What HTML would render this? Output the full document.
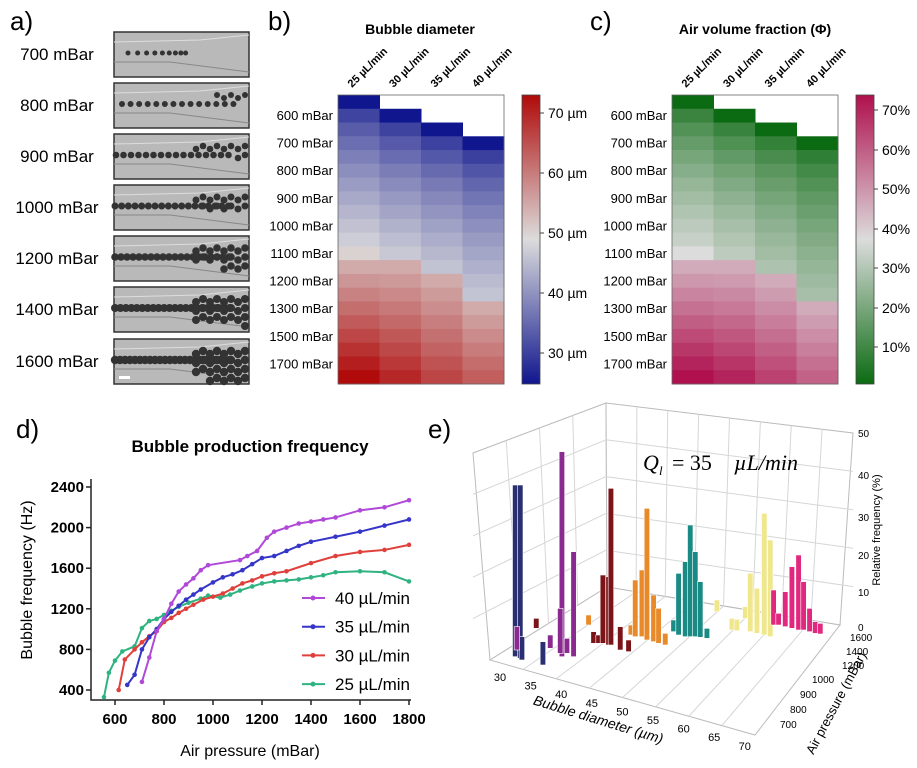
<!DOCTYPE html>
<html><head><meta charset="utf-8"><style>
html,body{margin:0;padding:0;background:#fff}
svg{display:block;font-family:"Liberation Sans",sans-serif}
</style></head><body>
<svg id="s" width="917" height="768" viewBox="0 0 917 768" xmlns="http://www.w3.org/2000/svg">
<defs>
<linearGradient id="gb" x1="0" y1="1" x2="0" y2="0"><stop offset="0" stop-color="#10168e"/><stop offset="0.5" stop-color="#dcdcdc"/><stop offset="1" stop-color="#b00a0a"/></linearGradient>
<linearGradient id="gc" x1="0" y1="1" x2="0" y2="0"><stop offset="0" stop-color="#0b6b12"/><stop offset="0.5" stop-color="#dcdcdc"/><stop offset="1" stop-color="#b0104e"/></linearGradient>
</defs>
<g font-size="26"><text x="10" y="30">a)</text><text x="268" y="30">b)</text><text x="590" y="30">c)</text><text x="16" y="438">d)</text><text x="428" y="438">e)</text></g>
<text x="420" y="34" font-size="14" font-weight="bold" text-anchor="middle">Bubble diameter</text>
<text x="755" y="34" font-size="14" font-weight="bold" text-anchor="middle">Air volume fraction (Φ)</text>
<g id="a"></g><g id="b"></g><g id="c"></g><g id="d"></g><g id="e"></g>
<text x="250" y="452" font-size="17" font-weight="bold" text-anchor="middle">Bubble production frequency</text>
<text x="250" y="756" font-size="16" text-anchor="middle">Air pressure (mBar)</text>
<text transform="translate(32,580) rotate(-90)" font-size="16" text-anchor="middle">Bubble frequency (Hz)</text>
</svg>
<script>
const NS="http://www.w3.org/2000/svg";
function el(p,t,a,txt){const e=document.createElementNS(NS,t);for(const k in a)e.setAttribute(k,a[k]);if(txt!==undefined)e.textContent=txt;document.getElementById(p).appendChild(e);return e;}
const ay=[32,83,134,185,236,287,339],al=["700 mBar","800 mBar","900 mBar","1000 mBar","1200 mBar","1400 mBar","1600 mBar"];
ay.forEach((y,i)=>{el('a','text',{x:57,y:y+28,'font-size':17,'text-anchor':'middle'},al[i]);
el('a','rect',{x:114,y:y,width:135,height:45,fill:'#b9b9b9',stroke:'#333','stroke-width':1.5});
el('a','path',{d:`M114 ${y+30} L170 ${y+30} L249 ${y+40}`,stroke:'#888',fill:'none'});
el('a','path',{d:`M114 ${y+10} L200 ${y+8} L249 ${y+3}`,stroke:'#ddd',fill:'none'});
let start=[128,122,116,115,115,115,115][i],n=[9,14,16,18,20,22,24][i],r=[2.5,3,3.3,3.5,3.8,4,4.2][i];
for(let k=0;k<n;k++){let x=start+k*(i==0?10-k*0.35:(120/n)+0);if(x>246)break;el('a','circle',{cx:x,cy:y+21,r:r,fill:'#333'});}
for(let k=0;k<i*5;k++){el('a','circle',{cx:249-4-(k%8)*7,cy:y+12+Math.floor(k/8)*9+((k%2)*3),r:r,fill:'#333'});}
});
el('a','rect',{x:119,y:376,width:11,height:3,fill:'#fff'});
function lerp(a,b,t){return a.map((v,i)=>Math.round(v+(b[i]-v)*t));}
function cmap(t,lo,hi){const w=[220,220,220];return 'rgb('+(t<0.5?lerp(lo,w,t*2):lerp(w,hi,(t-0.5)*2)).join(',')+')';}
function heat(g,x0,lo,hi,vals,cbx,ticks){
 const top=95,rh=289/21,cw=41.5;
 for(let c=0;c<4;c++){const s=c,m=vals.m[c],e=vals.e[c];
  for(let r=s;r<21;r++){let t=r<=m?0.5*(r-s)/(m-s):0.5+(e-0.5)*(r-m)/(20-m);
   if(r>s && t<0.5) t=0.5*Math.pow(t/0.5,0.6)*0.95+0.08*(1-t/0.5)*0;
   if(r==s) t=0;
   if(vals.jump && r>=vals.jump[c]) t=Math.max(t,0.62+(e-0.62)*(r-vals.jump[c])/(20-vals.jump[c]+0.01));
   el(g,'rect',{x:x0+c*cw,y:top+r*rh,width:cw+0.5,height:rh+0.5,fill:cmap(t,lo,hi)});}}
 el(g,'rect',{x:x0,y:top,width:cw*4,height:289,fill:'none',stroke:'#666','stroke-width':0.8});
 ["600","700","800","900","1000","1100","1200","1300","1500","1700"].forEach((l,i)=>el(g,'text',{x:x0-5,y:120+i*27.6,'font-size':13,'text-anchor':'end'},l+" mBar"));
 ["25","30","35","40"].forEach((l,i)=>el(g,'text',{transform:`translate(${x0+14+i*cw},88) rotate(-45)`,'font-size':11,'font-weight':'bold'},l+" µL/min"));
 el(g,'rect',{x:cbx,y:95,width:18,height:289,fill:'url(#'+(g=='b'?'gb':'gc')+')',stroke:'#444','stroke-width':0.8});
 ticks.forEach(([y,l])=>{el(g,'line',{x1:cbx+18,x2:cbx+22,y1:y,y2:y,stroke:'#444'});el(g,'text',{x:cbx+26,y:y+5,'font-size':14},l);});
}
heat('b',338,[16,22,142],[176,10,10],{m:[10.5,12,13.5,15.5],e:[1,0.93,0.86,0.8],jump:[12,12,13,15]},522,[[113,"70 µm"],[173,"60 µm"],[233,"50 µm"],[293,"40 µm"],[353,"30 µm"]]);
heat('c',672,[11,107,18],[176,16,78],{m:[11,13,16,19.5],e:[1,0.95,0.88,0.8],jump:[12,12,13,15]},856,[[110,"70%"],[150,"60%"],[189,"50%"],[229,"40%"],[268,"30%"],[308,"20%"],[347,"10%"]]);
const X=p=>115+(p-600)*294/1200,Y=f=>690-(f-400)*203/2000;
el('d','path',{d:`M91 479 L91 700 L411 700`,stroke:'#222','stroke-width':1.5,fill:'none'});
[400,800,1200,1600,2000,2400].forEach(f=>{el('d','line',{x1:86,x2:91,y1:Y(f),y2:Y(f),stroke:'#222','stroke-width':1.5});el('d','text',{x:84,y:Y(f)+5,'font-size':15,'font-weight':'bold','text-anchor':'end'},f);});
[600,800,1000,1200,1400,1600,1800].forEach(p=>{el('d','line',{x1:X(p),x2:X(p),y1:700,y2:705,stroke:'#222','stroke-width':1.5});el('d','text',{x:X(p),y:724,'font-size':15,'font-weight':'bold','text-anchor':'middle'},p);});
const S=[
["#2fb380",[[555,330],[575,570],[600,690],[630,780],[680,830],[710,1010],[740,1080],[770,1100],[800,1140],[830,1180],[860,1220],[900,1260],[950,1300],[980,1330],[1030,1310],[1070,1340],[1110,1380],[1160,1420],[1200,1450],[1250,1470],[1300,1480],[1350,1490],[1400,1510],[1450,1530],[1500,1560],[1600,1570],[1700,1560],[1800,1470]]],
["#e0403c",[[615,400],[640,700],[680,800],[710,870],[740,930],[770,980],[800,1070],[830,1110],[860,1160],[890,1200],[920,1240],[960,1290],[1000,1320],[1040,1350],[1080,1400],[1120,1450],[1160,1480],[1200,1520],[1250,1550],[1300,1570],[1400,1650],[1500,1720],[1600,1760],[1700,1780],[1800,1830]]],
["#3535c8",[[650,450],[680,550],[710,800],[740,920],[770,1000],[800,1100],[830,1170],[860,1230],[890,1290],[920,1340],[950,1390],[1000,1460],[1040,1510],[1080,1540],[1120,1580],[1160,1640],[1200,1700],[1250,1720],[1300,1770],[1350,1820],[1400,1860],[1500,1910],[1600,1960],[1700,2020],[1800,2080]]],
["#b048d8",[[710,480],[740,720],[770,980],[800,1100],[830,1250],[860,1370],[890,1440],[920,1500],[950,1580],[980,1630],[1110,1680],[1140,1720],[1180,1770],[1220,1900],[1250,1960],[1300,2000],[1350,2040],[1400,2060],[1450,2080],[1500,2100],[1600,2170],[1700,2200],[1800,2270]]]];
S.forEach(([c,pts])=>{el('d','polyline',{points:pts.map(p=>X(p[0])+','+Y(p[1])).join(' '),stroke:c,'stroke-width':2,fill:'none'});
 pts.forEach(p=>el('d','circle',{cx:X(p[0]),cy:Y(p[1]),r:2.3,fill:c}));});
[["#b048d8","40"],["#3535c8","35"],["#e0403c","30"],["#2fb380","25"]].forEach(([c,l],i)=>{const y=598+i*28.7;
 el('d','line',{x1:302,x2:325,y1:y,y2:y,stroke:c,'stroke-width':2});el('d','circle',{cx:313,cy:y,r:2.5,fill:c});
 el('d','text',{x:335,y:y+6,'font-size':17},l+" µL/min");});
const g='#d6d6d6';
el('e','polygon',{points:'473,453 606,403 607,587 490,660',fill:'#fff',stroke:'#bbb'});
el('e','polygon',{points:'606,403 853,433 840,625 607,587',fill:'#fff',stroke:'#bbb'});
el('e','polygon',{points:'490,660 607,587 840,625 755,735',fill:'#fff',stroke:'#bbb'});
for(let i=1;i<5;i++){const t=i/5;
 el('e','line',{x1:606,x2:853,y1:403+(587-403)*t,y2:433+(625-433)*t,stroke:g});
 el('e','line',{x1:473,x2:606,y1:453+(660-453)*t,y2:403+(587-403)*t,stroke:g});}
for(let i=1;i<8;i++){const t=i/8;el('e','line',{x1:606+(853-606)*t,x2:607+(840-607)*t,y1:403+30*t,y2:587+38*t,stroke:g});
 el('e','line',{x1:490+(755-490)*t,y1:660+75*t,x2:607+(840-607)*t,y2:587+38*t,stroke:g});}
for(let i=1;i<4;i++){const t=i/4;el('e','line',{x1:473+(606-473)*t,y1:453-50*t,x2:490+(607-490)*t,y2:660-73*t,stroke:g});}
const B={"#2a2f72":[[165,285,800],[180,285,805],[185,740,810],[248,755,825]],
"#8a2a90":[[170,710,780],[305,185,800],[340,485,800],[300,655,790],[320,745,790],[270,735,775]],
"#7a1418":[[228,685,715],[400,725,760],[415,735,760],[428,555,760],[445,560,765],[452,295,765],[480,710,780],[505,750,785]],
"#e8892a":[[385,675,705],[512,705,735],[525,570,740],[545,540,740],[560,355,750],[580,615,755],[595,655,760],[615,730,765]],
"#1a8a84":[[640,690,725],[655,550,735],[675,515,740],[690,405,740],[705,485,740],[720,575,742],[740,715,745]],
"#f0e68c":[[770,630,665],[815,685,720],[830,688,722],[855,650,685],[870,550,725],[890,595,730],[912,370,735],[930,450,740]],
"#e0287e":[[940,600,705],[955,670,705],[975,605,710],[995,530,715],[1015,495,720],[1030,575,720],[1048,655,725],[1065,695,730],[1080,700,732]]};
for(const c in B)B[c].forEach(([x,t,b])=>el('e','rect',{x:460+x/3-2.5,y:390+t/3,width:5.5,height:(b-t)/3,fill:c,stroke:'#fff','stroke-width':0.6}));
el('e','text',{x:643,y:470,'font-size':22,'font-family':'Liberation Serif,serif','font-style':'italic'},'Q');
el('e','text',{x:659,y:475,'font-size':13,'font-family':'Liberation Serif,serif','font-style':'italic'},'l');
el('e','text',{x:672,y:470,'font-size':22,'font-family':'Liberation Serif,serif'},'= 35 ');
el('e','text',{x:734,y:470,'font-size':22,'font-family':'Liberation Serif,serif','font-style':'italic'},'µL/min');
[[0,627],[10,592],[20,555],[30,517],[40,475],[50,433]].forEach(([v,y])=>el('e','text',{x:858,y:y+4,'font-size':10},v));
el('e','text',{transform:'translate(880,530) rotate(-90)','font-size':11,'text-anchor':'middle'},'Relative frequency (%)');
[[1600,850,637],[1400,846,651],[1200,842,665],[1000,812,679],[900,800,694],[800,790,709],[700,780,724]].forEach(([l,x,y])=>el('e','text',{x:x,y:y+4,'font-size':10},l));
el('e','text',{transform:'translate(840,705) rotate(-62)','font-size':13,'text-anchor':'middle'},'Air pressure (mBar)');
[30,35,40,45,50,55,60,65,70].forEach((l,i)=>el('e','text',{x:500+i*30.6,y:681+i*8.6,'font-size':11,'text-anchor':'middle'},l));
el('e','text',{transform:'translate(597,724) rotate(17)','font-size':14,'font-style':'italic','text-anchor':'middle'},'Bubble diameter (µm)');
</script>
</body></html>
